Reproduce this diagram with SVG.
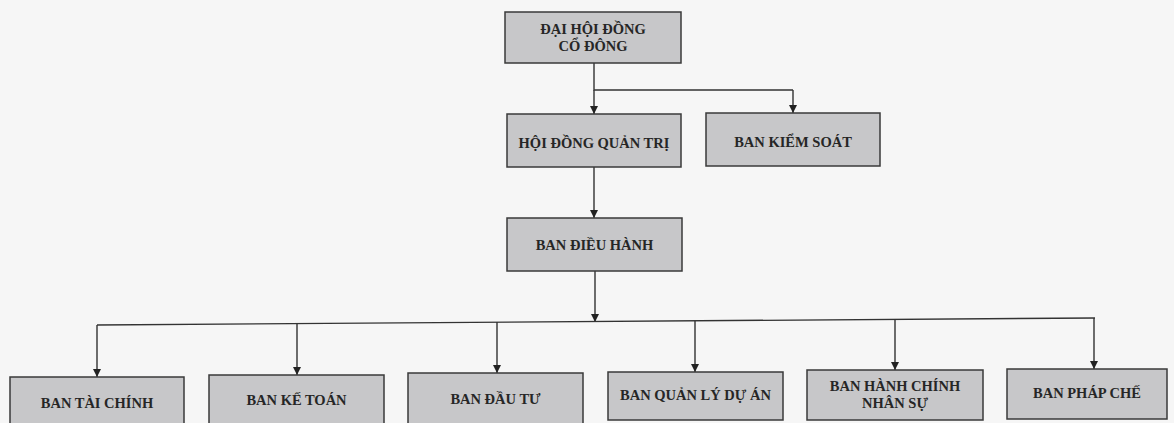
<svg xmlns="http://www.w3.org/2000/svg" width="1174" height="423" viewBox="0 0 1174 423">
<defs>
<marker id="arr" viewBox="0 0 10 10" refX="10" refY="5" markerWidth="8" markerHeight="8" markerUnits="userSpaceOnUse" orient="auto">
<path d="M0,0 L10,5 L0,10 Z" fill="#222"/>
</marker>
<style>
.box{fill:#c7c7c9;stroke:#3a3a3a;stroke-width:1.5}
.lbl{font-family:"Liberation Serif","Times New Roman",serif;font-weight:bold;font-size:14.5px;fill:#262626;text-anchor:middle}
.ln{fill:none;stroke:#333;stroke-width:1.4}
.ar{fill:none;stroke:#333;stroke-width:1.4;marker-end:url(#arr)}
</style>
</defs>
<rect width="1174" height="423" fill="#f6f6f6"/>
<g id="connectors">
<path class="ln" d="M594,63 V90 H793"/>
<path class="ar" d="M594,90 V114"/>
<path class="ar" d="M793,90 V113"/>
<path class="ar" d="M594,167 V218"/>
<path class="ar" d="M595,271 V322"/>
<path class="ln" d="M97,325 L1095,318"/>
<path class="ar" d="M97,325 V377"/>
<path class="ar" d="M297,324 V375"/>
<path class="ar" d="M497,322 V373"/>
<path class="ar" d="M695,321 V372"/>
<path class="ar" d="M895,319 V370"/>
<path class="ar" d="M1094,318 V369"/>
</g>
<g id="dhdcd">
<rect class="box" x="505" y="12" width="176" height="51"/>
<text class="lbl" x="593" y="34">ĐẠI HỘI ĐỒNG</text>
<text class="lbl" x="593" y="51">CỔ ĐÔNG</text>
</g>
<g id="hdqt">
<rect class="box" x="507" y="114" width="174" height="53"/>
<text class="lbl" x="594" y="148">HỘI ĐỒNG QUẢN TRỊ</text>
</g>
<g id="bks">
<rect class="box" x="706" y="113" width="174" height="53"/>
<text class="lbl" x="793" y="147">BAN KIỂM SOÁT</text>
</g>
<g id="bdh">
<rect class="box" x="507" y="218" width="175" height="53"/>
<text class="lbl" x="594.5" y="250">BAN ĐIỀU HÀNH</text>
</g>
<g id="btc">
<rect class="box" x="10" y="377" width="174" height="52"/>
<text class="lbl" x="97" y="408">BAN TÀI CHÍNH</text>
</g>
<g id="bkt">
<rect class="box" x="209" y="375" width="175" height="52"/>
<text class="lbl" x="296.5" y="405">BAN KẾ TOÁN</text>
</g>
<g id="bdt">
<rect class="box" x="408" y="373" width="175" height="52"/>
<text class="lbl" x="495.5" y="404">BAN ĐẦU TƯ</text>
</g>
<g id="bqlda">
<rect class="box" x="608" y="372" width="175" height="48"/>
<text class="lbl" x="695.5" y="400">BAN QUẢN LÝ DỰ ÁN</text>
</g>
<g id="bhcns">
<rect class="box" x="807" y="370" width="176" height="50"/>
<text class="lbl" x="895" y="391">BAN HÀNH CHÍNH</text>
<text class="lbl" x="895" y="408">NHÂN SỰ</text>
</g>
<g id="bpc">
<rect class="box" x="1007" y="369" width="160" height="50"/>
<text class="lbl" x="1087" y="398">BAN PHÁP CHẾ</text>
</g>
</svg>
